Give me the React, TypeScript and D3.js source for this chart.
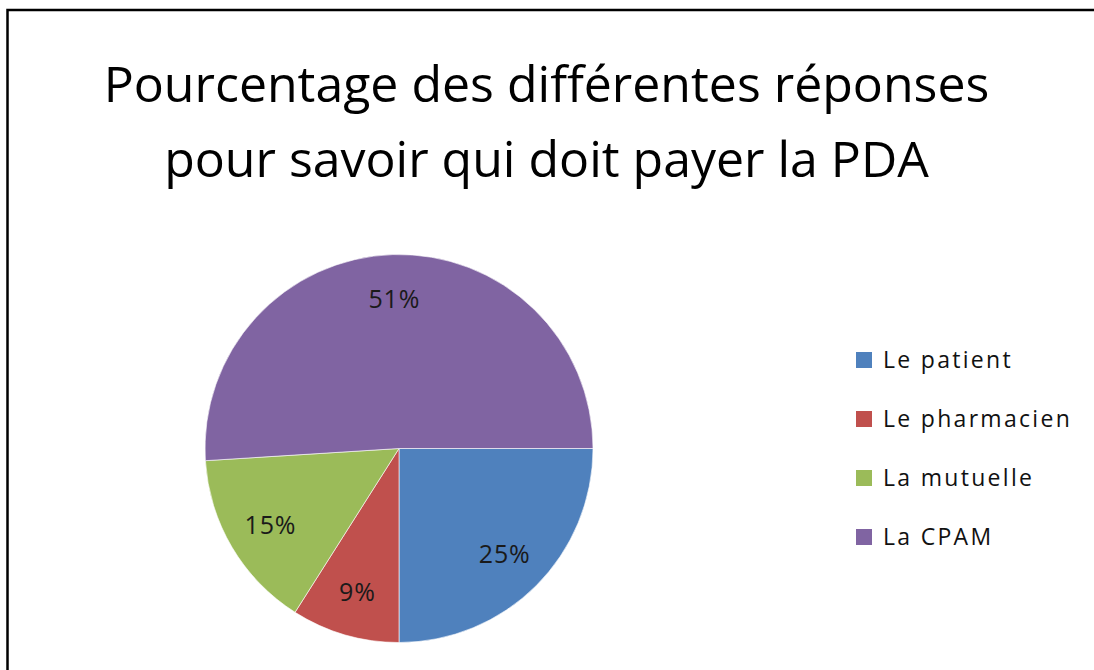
import React, { useEffect, useRef } from 'react';
import * as d3 from 'd3';

const categories = ['Le patient', 'Le pharmacien', 'La mutuelle', 'La CPAM'];
const percents = [25, 9, 15, 51];
const colors = ['#4F81BD', '#C0504D', '#9BBB59', '#8064A2'];
const titleLines = ['Pourcentage des différentes réponses', 'pour savoir qui doit payer la PDA'];

const WIDTH = 1094;
const HEIGHT = 670;
const FONT = '"Open Sans", "Noto Sans", sans-serif';

const App: React.FC = () => {
  const svgRef = useRef<SVGSVGElement>(null);

  useEffect(() => {
    document.body.style.margin = '0';
    if (!svgRef.current) return;

    const svg = d3.select(svgRef.current);
    svg.selectAll('*').remove();

    svg.append('rect')
      .attr('width', WIDTH)
      .attr('height', HEIGHT)
      .attr('fill', '#ffffff');

    // chart frame (runs off the right and bottom edges)
    svg.append('rect')
      .attr('x', 7.5)
      .attr('y', 10)
      .attr('width', WIDTH + 20)
      .attr('height', HEIGHT + 20)
      .attr('fill', 'none')
      .attr('stroke', '#000')
      .attr('stroke-width', 2.5);

    // title
    svg.append('g')
      .selectAll('text')
      .data(titleLines)
      .enter()
      .append('text')
      .attr('x', 546.5)
      .attr('y', (_, i) => 102 + i * 75)
      .attr('text-anchor', 'middle')
      .attr('font-family', FONT)
      .attr('font-size', '50px')
      .attr('fill', '#000')
      .text(d => d);

    // pie
    const cx = 399;
    const cy = 448.5;
    const radius = 194;

    const pie = d3.pie<number>()
      .sort(null)
      .startAngle(Math.PI / 2)
      .endAngle(Math.PI / 2 + 2 * Math.PI);

    const arcs = pie(percents);

    const arc = d3.arc<d3.PieArcDatum<number>>()
      .innerRadius(0)
      .outerRadius(radius);

    const labelArc = d3.arc<d3.PieArcDatum<number>>()
      .innerRadius(radius * 0.77)
      .outerRadius(radius * 0.77);

    const g = svg.append('g')
      .attr('transform', `translate(${cx},${cy})`);

    g.selectAll('path')
      .data(arcs)
      .enter()
      .append('path')
      .attr('d', arc)
      .attr('fill', (_, i) => colors[i])
      .attr('stroke', 'rgba(255,255,255,0.6)')
      .attr('stroke-width', 1);

    g.selectAll('text')
      .data(arcs)
      .enter()
      .append('text')
      .attr('transform', d => `translate(${labelArc.centroid(d)})`)
      .attr('text-anchor', 'middle')
      .attr('dy', '0.36em')
      .attr('font-family', FONT)
      .attr('font-size', '25px')
      .attr('letter-spacing', '0.8px')
      .attr('fill', '#1a1a1a')
      .text(d => `${d.data}%`);

    // legend
    const legend = svg.append('g')
      .attr('transform', 'translate(856,360)');

    const rows = legend.selectAll('g')
      .data(categories)
      .enter()
      .append('g')
      .attr('transform', (_, i) => `translate(0,${i * 59})`);

    rows.append('rect')
      .attr('x', 0)
      .attr('y', -8)
      .attr('width', 16)
      .attr('height', 16)
      .attr('fill', (_, i) => colors[i]);

    rows.append('text')
      .attr('x', 27)
      .attr('dy', '0.35em')
      .attr('font-family', FONT)
      .attr('font-size', '23px')
      .attr('letter-spacing', '2.3px')
      .attr('fill', '#111')
      .text(d => d);
  }, []);

  return <svg ref={svgRef} width={WIDTH} height={HEIGHT} style={{ display: 'block' }}></svg>;
};

export default App;
